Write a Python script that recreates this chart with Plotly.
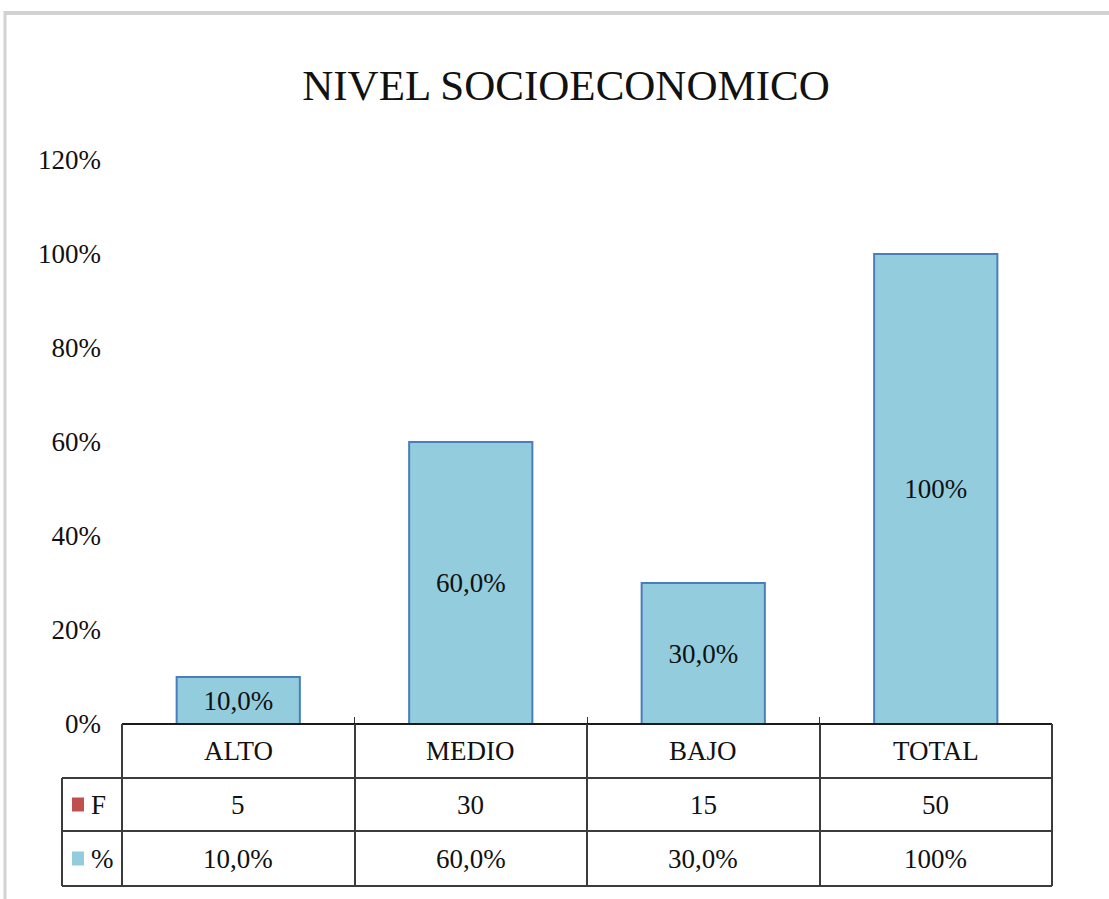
import plotly.graph_objects as go

# ---- data ----
categories = ["ALTO", "MEDIO", "BAJO", "TOTAL"]
freq = [5, 30, 15, 50]
pct = [0.10, 0.60, 0.30, 1.00]
pct_labels = ["10,0%", "60,0%", "30,0%", "100%"]
row_names = ["F", "%"]
title_text = "NIVEL SOCIOECONOMICO"

# ---- layout geometry (pixels of 1109x899 canvas) ----
W, H = 1109, 899
L, R, T, B = 122, 1052, 160, 724  # plot area


def px(x):
    return (x - L) / (R - L)


def py(y):
    return (B - y) / (B - T)


FONT = "Liberation Serif"
TXT = "#111111"
LINE = "#3c3c3c"
BAR_FILL = "#93cddd"
BAR_LINE = "#4a7ebb"
RED = "#c0504d"

fig = go.Figure()
fig.add_trace(go.Bar(
    x=categories, y=pct, text=pct_labels,
    textposition="inside", insidetextanchor="middle",
    textfont=dict(family=FONT, size=27, color=TXT),
    marker=dict(color=BAR_FILL, line=dict(color=BAR_LINE, width=2)),
    width=0.53, showlegend=False, constraintext="none",
))

shapes = []
ann = []

# table rows (pixel y of horizontal lines)
row_y = [724, 778, 831, 886]
col_x = [L, 355, 587, 820, R]
left_x = 62

# horizontal lines
shapes.append(dict(type="line", xref="paper", yref="paper", x0=px(L), x1=px(R),
                   y0=py(row_y[0]), y1=py(row_y[0]), line=dict(color="#1a1a1a", width=2)))
for yy in row_y[1:]:
    shapes.append(dict(type="line", xref="paper", yref="paper", x0=px(left_x), x1=px(R),
                       y0=py(yy), y1=py(yy), line=dict(color=LINE, width=2)))
# vertical lines
for xx in col_x:
    shapes.append(dict(type="line", xref="paper", yref="paper", x0=px(xx), x1=px(xx),
                       y0=py(row_y[0]), y1=py(row_y[-1]), line=dict(color=LINE, width=2)))
shapes.append(dict(type="line", xref="paper", yref="paper", x0=px(left_x), x1=px(left_x),
                   y0=py(row_y[1]), y1=py(row_y[-1]), line=dict(color=LINE, width=2)))

# legend keys
for i, col in enumerate([RED, BAR_FILL]):
    yc = (row_y[i + 1] + row_y[i + 2]) / 2
    shapes.append(dict(type="rect", xref="paper", yref="paper",
                       x0=px(72), x1=px(84), y0=py(yc + 7), y1=py(yc - 7),
                       fillcolor=col, line=dict(width=0)))
    ann.append(dict(text=row_names[i], xref="paper", yref="paper", x=px(89), y=py(yc),
                    xanchor="left", yanchor="middle", showarrow=False,
                    font=dict(family=FONT, size=27, color=TXT)))

# cell texts
rows = [categories, [str(v) for v in freq], pct_labels]
for r, vals in enumerate(rows):
    yc = (row_y[r] + row_y[r + 1]) / 2
    for c, v in zip(categories, vals):
        ann.append(dict(text=v, xref="x", yref="paper", x=c, y=py(yc),
                        xanchor="center", yanchor="middle", showarrow=False,
                        font=dict(family=FONT, size=27, color=TXT)))

# outer frame (gray top/left border of screenshot)
shapes.append(dict(type="line", xref="paper", yref="paper", x0=px(5), x1=px(W),
                   y0=py(13), y1=py(13), line=dict(color="#d2d2d2", width=4)))
shapes.append(dict(type="line", xref="paper", yref="paper", x0=px(5), x1=px(5),
                   y0=py(11), y1=py(H), line=dict(color="#d2d2d2", width=3)))

fig.update_layout(
    width=W, height=H,
    margin=dict(l=L, r=W - R, t=T, b=H - B, pad=0),
    paper_bgcolor="white", plot_bgcolor="white",
    title=dict(text=title_text, x=566 / W, xanchor="center", xref="container",
               y=1 - 85 / H, yanchor="middle", yref="container",
               font=dict(family=FONT, size=43, color=TXT)),
    xaxis=dict(showticklabels=False, showgrid=False, zeroline=False, showline=False,
               ticks="inside", tickson="boundaries", ticklen=7, tickcolor="#333"),
    yaxis=dict(range=[0, 1.2], dtick=0.2, tickformat=".0%", showgrid=False,
               zeroline=False, showline=False, ticks="",
               tickfont=dict(family=FONT, size=27, color=TXT),
               ticklabelstandoff=20),
    shapes=shapes, annotations=ann, bargap=0.47,
)

fig.write_html("out.html")
